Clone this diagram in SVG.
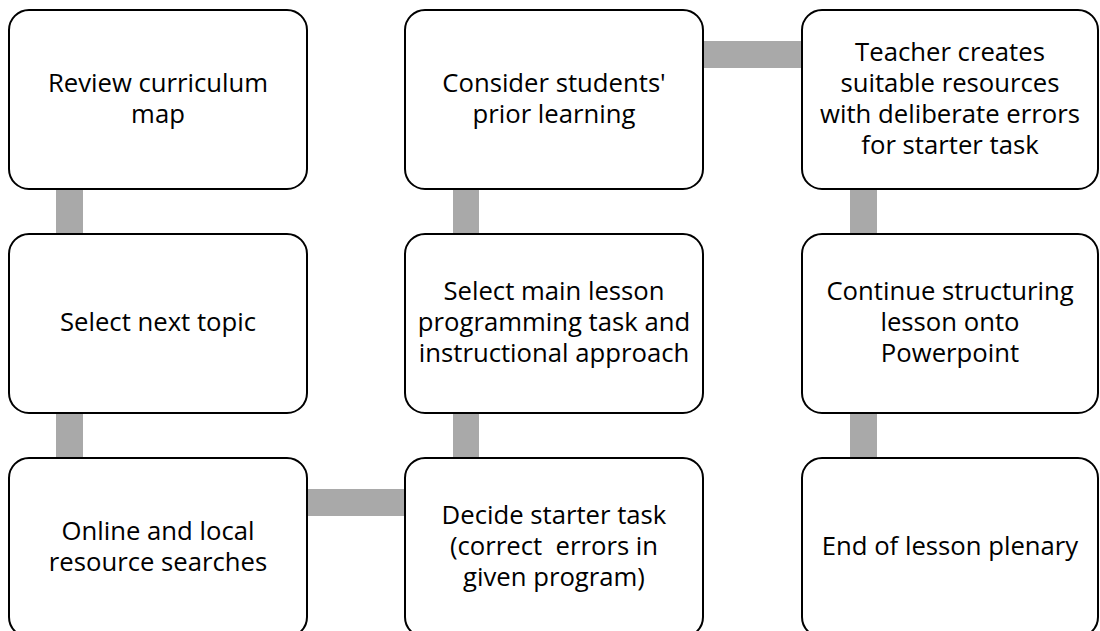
<svg xmlns="http://www.w3.org/2000/svg" width="1100" height="631" viewBox="0 0 1100 631">
<style>
.box{fill:#ffffff;stroke:#000000;stroke-width:2}
.lbl{font-family:"Open Sans","Liberation Sans",sans-serif;font-size:25.7px;fill:#000000;text-anchor:middle}
.conn{fill:#a9a9a9;stroke:none}
</style>
<rect width="1100" height="631" fill="#ffffff"/>
<g id="connectors">
<rect class="conn" x="56" y="189" width="27" height="45"/>
<rect class="conn" x="56" y="413" width="27" height="45"/>
<rect class="conn" x="307" y="489" width="98" height="27"/>
<rect class="conn" x="453" y="413" width="26" height="45"/>
<rect class="conn" x="453" y="189" width="26" height="45"/>
<rect class="conn" x="704" y="41" width="98" height="27"/>
<rect class="conn" x="850" y="189" width="27" height="45"/>
<rect class="conn" x="850" y="413" width="27" height="45"/>
</g>
<g id="n1">
<rect class="box" x="9" y="10" width="298" height="179" rx="20"/>
<text class="lbl" x="158" y="92">Review curriculum<tspan x="158" dy="31">map</tspan></text>
</g>
<g id="n2">
<rect class="box" x="9" y="234" width="298" height="179" rx="20"/>
<text class="lbl" x="158" y="331">Select next topic</text>
</g>
<g id="n3">
<rect class="box" x="9" y="458" width="298" height="179" rx="20"/>
<text class="lbl" x="158" y="540">Online and local<tspan x="158" dy="31">resource searches</tspan></text>
</g>
<g id="n4">
<rect class="box" x="405" y="458" width="298" height="179" rx="20"/>
<text class="lbl" x="554" y="524" xml:space="preserve">Decide starter task<tspan x="554" dy="31">(correct  errors in</tspan><tspan x="554" dy="31">given program)</tspan></text>
</g>
<g id="n5">
<rect class="box" x="405" y="234" width="298" height="179" rx="20"/>
<text class="lbl" x="554" y="300">Select main lesson<tspan x="554" dy="31">programming task and</tspan><tspan x="554" dy="31">instructional approach</tspan></text>
</g>
<g id="n6">
<rect class="box" x="405" y="10" width="298" height="179" rx="20"/>
<text class="lbl" x="554" y="92">Consider students'<tspan x="554" dy="31">prior learning</tspan></text>
</g>
<g id="n7">
<rect class="box" x="802" y="10" width="296" height="179" rx="20"/>
<text class="lbl" x="950" y="61">Teacher creates<tspan x="950" dy="31">suitable resources</tspan><tspan x="950" dy="31">with deliberate errors</tspan><tspan x="950" dy="31">for starter task</tspan></text>
</g>
<g id="n8">
<rect class="box" x="802" y="234" width="296" height="179" rx="20"/>
<text class="lbl" x="950" y="300">Continue structuring<tspan x="950" dy="31">lesson onto</tspan><tspan x="950" dy="31">Powerpoint</tspan></text>
</g>
<g id="n9">
<rect class="box" x="802" y="458" width="296" height="179" rx="20"/>
<text class="lbl" x="950" y="555">End of lesson plenary</text>
</g>
</svg>
